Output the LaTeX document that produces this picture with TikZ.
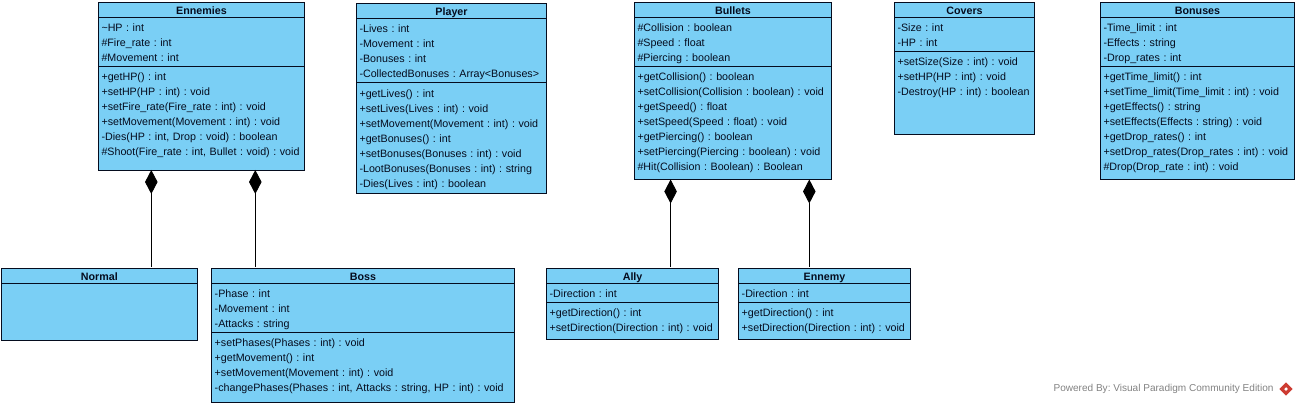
\documentclass[tikz,border=0pt]{standalone}
\usepackage{fontspec}
\setmainfont{Liberation Sans}
\usetikzlibrary{arrows.meta, positioning}
\definecolor{classblue}{RGB}{122,207,245}
\definecolor{classline}{RGB}{5,12,30}
\definecolor{footgray}{RGB}{130,130,130}
\definecolor{logored}{RGB}{205,60,50}
\newcommand{\classstrut}{\rule[-3pt]{0pt}{15pt}}

\begin{document}
\begin{tikzpicture}[
    x=1pt, y=-1pt,
    node distance=0pt,
    part/.style={rectangle, draw=classline, fill=classblue, line width=0.9pt, inner xsep=3pt, inner ysep=2pt,
                 outer sep=0pt, font=\fontsize{10.7pt}{15pt}\selectfont\frenchspacing, text=classline,
                 execute at begin node=\classstrut, execute at end node=\classstrut},
    classtitle/.style={part, anchor=north west, inner ysep=0pt, minimum height=15pt,
                 font=\fontsize{10.7pt}{15pt}\selectfont\bfseries, align=center},
    classbody/.style={part, align=left, anchor=north},
    comp/.style={{Diamond[length=24pt, width=12.5pt]}-, line width=0.9pt, draw=black, shorten >=1.5pt}
]
    \useasboundingbox (0,0) rectangle (1298,406);
    % top row
    \node[classtitle, minimum width=206pt] (ennemies) at (98.5,2.5) {Ennemies};
    \node[classbody, below=of ennemies, minimum width=206pt, text width=200pt] (ennemiesattr) {\textasciitilde HP : int\\\#Fire\_rate : int\\\#Movement : int};
    \node[classbody, below=of ennemiesattr, minimum width=206pt, text width=200pt] (ennemiesops) {+getHP() : int\\+setHP(HP : int) : void\\+setFire\_rate(Fire\_rate : int) : void\\+setMovement(Movement : int) : void\\-Dies(HP : int, Drop : void) : boolean\\\#Shoot(Fire\_rate : int, Bullet : void) : void\\[-5.5pt]~};

    \node[classtitle, minimum width=190pt] (player) at (356.5,3.5) {Player};
    \node[classbody, below=of player, minimum width=190pt, text width=184pt] (playerattr) {-Lives : int\\-Movement : int\\-Bonuses : int\\-CollectedBonuses : Array<Bonuses>};
    \node[classbody, below=of playerattr, minimum width=190pt, text width=184pt, inner ysep=2.85pt] (playerops) {+getLives() : int\\+setLives(Lives : int) : void\\+setMovement(Movement : int) : void\\+getBonuses() : int\\+setBonuses(Bonuses : int) : void\\-LootBonuses(Bonuses : int) : string\\-Dies(Lives : int) : boolean};

    \node[classtitle, minimum width=197pt] (bullets) at (634.5,2.5) {Bullets};
    \node[classbody, below=of bullets, minimum width=197pt, text width=191pt] (bulletsattr) {\#Collision : boolean\\\#Speed : float\\\#Piercing : boolean};
    \node[classbody, below=of bulletsattr, minimum width=197pt, text width=191pt] (bulletsops) {+getCollision() : boolean\\+setCollision(Collision : boolean) : void\\+getSpeed() : float\\+setSpeed(Speed : float) : void\\+getPiercing() : boolean\\+setPiercing(Piercing : boolean) : void\\\#Hit(Collision : Boolean) : Boolean\\[-11pt]~};

    \node[classtitle, minimum width=140pt] (covers) at (894.5,2.5) {Covers};
    \node[classbody, below=of covers, minimum width=140pt, text width=134pt] (coversattr) {-Size : int\\-HP : int};
    \node[classbody, below=of coversattr, minimum width=140pt, text width=134pt] (coversops) {+setSize(Size : int) : void\\+setHP(HP : int) : void\\-Destroy(HP : int) : boolean\\[19pt]~};

    \node[classtitle, minimum width=194pt] (bonuses) at (1100.5,2.5) {Bonuses};
    \node[classbody, below=of bonuses, minimum width=194pt, text width=188pt] (bonusesattr) {-Time\_limit : int\\-Effects : string\\-Drop\_rates : int};
    \node[classbody, below=of bonusesattr, minimum width=194pt, text width=188pt] (bonusesops) {+getTime\_limit() : int\\+setTime\_limit(Time\_limit : int) : void\\+getEffects() : string\\+setEffects(Effects : string) : void\\+getDrop\_rates() : int\\+setDrop\_rates(Drop\_rates : int) : void\\\#Drop(Drop\_rate : int) : void\\[-11pt]~};

    % bottom row
    \node[classtitle, minimum width=196pt] (normal) at (1.3,268.3) {Normal};
    \node[classbody, below=of normal, minimum width=196pt, text width=190pt] (normalbody) {~\\~\\[8pt]~};

    \node[classtitle, minimum width=302.6pt] (boss) at (211.7,268.3) {Boss};
    \node[classbody, below=of boss, minimum width=302.6pt, text width=296.6pt] (bossattr) {-Phase : int\\-Movement : int\\-Attacks : string};
    \node[classbody, below=of bossattr, minimum width=302.6pt, text width=296.6pt] (bossops) {+setPhases(Phases : int) : void\\+getMovement() : int\\+setMovement(Movement : int) : void\\-changePhases(Phases : int, Attacks : string, HP : int) : void\\[-9pt]~};

    \node[classtitle, minimum width=172pt] (ally) at (546.6,268.3) {Ally};
    \node[classbody, below=of ally, minimum width=172pt, text width=166pt] (allyattr) {-Direction : int};
    \node[classbody, below=of allyattr, minimum width=172pt, text width=166pt] (allyops) {+getDirection() : int\\+setDirection(Direction : int) : void\\[-12pt]~};

    \node[classtitle, minimum width=171.6pt] (ennemy) at (738.7,268.3) {Ennemy};
    \node[classbody, below=of ennemy, minimum width=171.6pt, text width=165.6pt] (ennemyattr) {-Direction : int};
    \node[classbody, below=of ennemyattr, minimum width=171.6pt, text width=165.6pt] (ennemyops) {+getDirection() : int\\+setDirection(Direction : int) : void\\[-12pt]~};

    % compositions
    \draw[comp] ([xshift=52pt]normal.north |- ennemiesops.south) -- ([xshift=52pt]normal.north);
    \draw[comp] ([xshift=-107.7pt]boss.north |- ennemiesops.south) -- ([xshift=-107.7pt]boss.north);
    \draw[comp] ([xshift=38pt]ally.north |- bulletsops.south) -- ([xshift=38pt]ally.north);
    \draw[comp] ([xshift=-15.2pt]ennemy.north |- bulletsops.south) -- ([xshift=-15.2pt]ennemy.north);

    % footer
    \node[anchor=east, text=footgray, font=\fontsize{10.05pt}{11pt}\selectfont\frenchspacing] (powered) at (1277,389.3) {Powered By: Visual Paradigm Community Edition};
    \node[rectangle, rotate=45, fill=logored, minimum size=9.5pt, inner sep=0pt] (logo) at (1286,389) {};
    \node[rectangle, rotate=45, fill=white, minimum size=2.5pt, inner sep=0pt] (logomark) at (logo.center) {};
\end{tikzpicture}
\end{document}
